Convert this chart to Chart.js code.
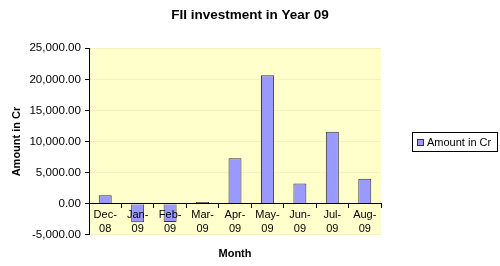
<!DOCTYPE html>
<html>
<head>
<meta charset="utf-8">
<title>FII investment in Year 09</title>
<script src="https://cdn.jsdelivr.net/npm/chart.js@4.4.1/dist/chart.umd.min.js"></script>
<style>
    body { margin: 0; background: #fff; }
    #wrap { width: 500px; height: 266px; }
</style>
</head>
<body>
<div id="wrap"><canvas id="myChart"></canvas></div>
<script>
let months = [['Dec-', '08'], ['Jan-', '09'], ['Feb-', '09'], ['Mar-', '09'], ['Apr-', '09'],
              ['May-', '09'], ['Jun-', '09'], ['Jul-', '09'], ['Aug-', '09']];
let amounts = [1350, -3000, -2950, 260, 7300, 20650, 3250, 11550, 4000];
let yTicks = [-5000, 0, 5000, 10000, 15000, 20000, 25000];

let font = '"Liberation Sans", Arial, sans-serif';
let ctx = document.getElementById('myChart').getContext('2d');

// yellow plot area behind everything
let plotBg = {
    id: 'plotBg',
    beforeDraw(chart) {
        let a = chart.chartArea;
        let c = chart.ctx;
        c.save();
        c.fillStyle = '#ffffcc';
        c.fillRect(a.left, a.top, a.right - a.left, a.bottom - a.top);
        c.restore();
    }
};

// Excel style boxed legend on the right
let boxLegend = {
    id: 'boxLegend',
    afterDraw(chart) {
        let c = chart.ctx;
        let ds = chart.data.datasets[0];
        c.save();
        c.strokeStyle = '#000';
        c.lineWidth = 1;
        c.fillStyle = '#fff';
        c.fillRect(412.5, 132.5, 85, 19);
        c.strokeRect(412.5, 132.5, 85, 19);
        c.fillStyle = ds.backgroundColor;
        c.fillRect(417.5, 139.5, 6, 6);
        c.strokeStyle = ds.borderColor;
        c.strokeRect(417.5, 139.5, 6, 6);
        c.fillStyle = '#000';
        c.font = '11px ' + font;
        c.textBaseline = 'middle';
        c.fillText(ds.label, 427, 142.5);
        c.restore();
    }
};

let myChart = new Chart(ctx, {
    type: 'bar',
    data: {
        labels: months,
        datasets: [{
            label: 'Amount in Cr',
            data: amounts,
            xAxisID: 'x',
            yAxisID: 'y',
            backgroundColor: '#9999ff',
            borderColor: '#333333',
            borderWidth: 1,
            barPercentage: 0.4,
            categoryPercentage: 1
        }]
    },
    options: {
        responsive: true,
        maintainAspectRatio: false,
        animation: false,
        layout: { padding: { left: 0, right: 0, top: 0, bottom: 3 } },
        plugins: {
            legend: { display: false },
            tooltip: { enabled: false },
            title: {
                display: true,
                text: 'FII investment in Year 09',
                color: '#000',
                font: { family: font, size: 13.5, weight: 'bold' },
                padding: { top: 7, bottom: 25 }
            }
        },
        scales: {
            x: {
                position: { y: 0 },
                offset: true,
                grid: {
                    display: true,
                    drawOnChartArea: false,
                    drawTicks: true,
                    tickLength: 4,
                    tickColor: '#000',
                    offset: true
                },
                border: { display: true, color: '#000', z: 1 },
                ticks: {
                    z: 1,
                    color: '#000',
                    font: { family: font, size: 11, lineHeight: 1.27 },
                    padding: 0,
                    maxRotation: 0,
                    autoSkip: false
                }
            },
            x2: {
                type: 'category',
                position: 'bottom',
                grid: { display: false, drawTicks: false },
                border: { display: false },
                ticks: { display: false },
                title: {
                    display: true,
                    text: 'Month',
                    color: '#000',
                    font: { family: font, size: 11, weight: 'bold' },
                    padding: { top: 13, bottom: 2 }
                }
            },
            y: {
                position: 'left',
                min: -5000,
                max: 25000,
                afterBuildTicks: function(scale) {
                    scale.ticks = yTicks.map(v => ({ value: v }));
                },
                afterFit: function(scale) {
                    scale.width = 89;
                },
                grid: {
                    color: '#f3f3c0',
                    tickColor: '#000',
                    tickLength: 4
                },
                border: { display: true, color: '#000' },
                ticks: {
                    color: '#000',
                    padding: 4,
                    font: { family: font, size: 11.6 },
                    callback: function(value) {
                        return value.toLocaleString('en-US', { minimumFractionDigits: 2, maximumFractionDigits: 2 });
                    }
                },
                title: {
                    display: true,
                    text: 'Amount in Cr',
                    color: '#000',
                    font: { family: font, size: 11, weight: 'bold' },
                    padding: { top: 10, bottom: 0 }
                }
            },
            // empty right-hand space where the legend sits
            yRight: {
                position: 'right',
                display: true,
                grid: { display: false, drawTicks: false },
                border: { display: false },
                ticks: { display: false },
                afterFit: function(scale) {
                    scale.width = 119;
                }
            }
        }
    },
    plugins: [plotBg, boxLegend]
});
</script>
</body>
</html>
